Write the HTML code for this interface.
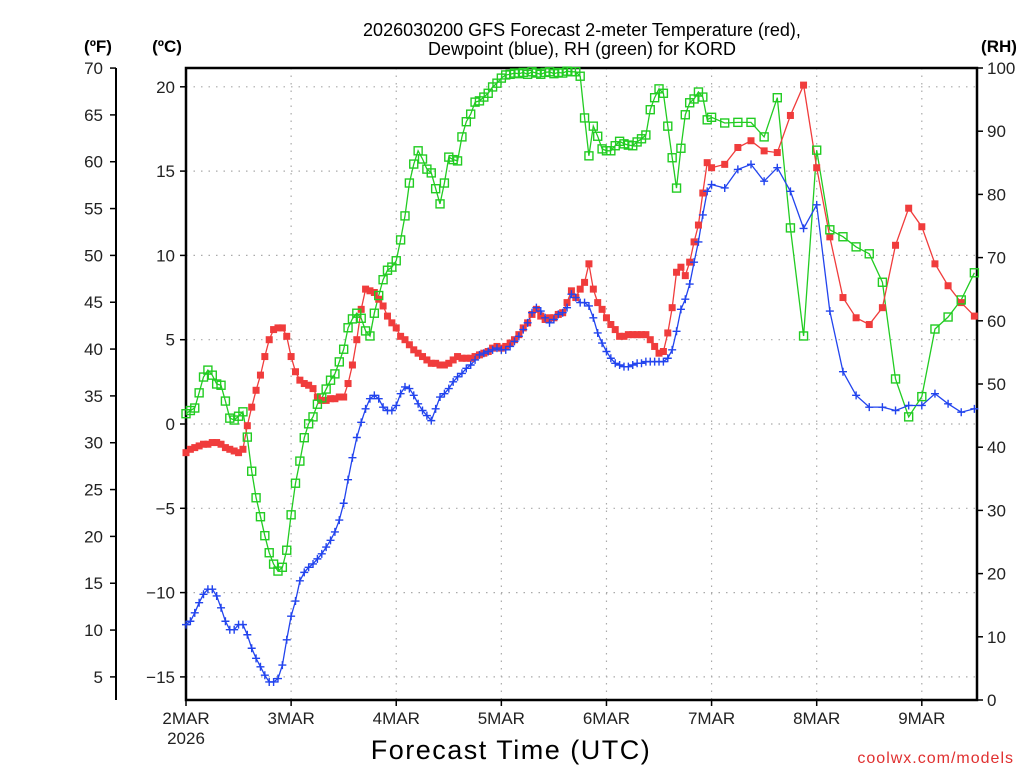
<!DOCTYPE html>
<html><head><meta charset="utf-8"><style>
html,body{margin:0;padding:0;background:#fff;}
svg{display:block;font-family:"Liberation Sans",sans-serif;}
</style></head><body>
<svg id="chart" width="1024" height="768" viewBox="0 0 1024 768" xmlns="http://www.w3.org/2000/svg">
<g id="grid"></g>
<g id="axes"></g>
<g id="series"></g>
<text x="582" y="36" font-size="18" text-anchor="middle" fill="#000">2026030200 GFS Forecast 2-meter Temperature (red),</text>
<text x="582" y="55" font-size="18" text-anchor="middle" fill="#000">Dewpoint (blue), RH (green) for KORD</text>
<text x="98" y="52" font-size="17" font-weight="bold" text-anchor="middle">(ºF)</text>
<text x="167" y="52" font-size="17" font-weight="bold" text-anchor="middle">(ºC)</text>
<text x="999" y="52" font-size="17" font-weight="bold" text-anchor="middle">(RH)</text>
<text x="511" y="759" font-size="27" text-anchor="middle" letter-spacing="1.5" fill="#000">Forecast Time (UTC)</text>
<text x="1014" y="763" font-size="16" text-anchor="end" fill="#e03030" letter-spacing="1">coolwx.com/models</text>
</svg>
<script>
// hours after 2026-03-02 00Z
const tempHourly = [-1.7,-1.5,-1.4,-1.3,-1.2,-1.2,-1.1,-1.1,-1.2,-1.4,-1.5,-1.6,-1.7,-1.5,-0.1,1.0,2.0,2.9,4.0,5.0,5.6,5.7,5.7,5.2,4.0,3.1,2.6,2.4,2.3,2.1,1.6,1.4,1.4,1.5,1.5,1.6,1.6,2.4,3.5,5.0,6.8,8.0,7.9,7.8,7.4,7.0,6.4,6.0,5.7,5.2,5.0,4.7,4.4,4.2,4.0,3.8,3.6,3.6,3.5,3.5,3.6,3.8,4.0,3.9,3.9,3.9,4.0,4.1,4.2,4.3,4.5,4.6,4.5,4.6,4.8,5.0,5.3,5.7,6.0,6.5,6.8,6.4,6.2,6.3,6.3,6.5,6.6,7.2,7.9,7.5,8.0,8.4,9.5,8.0,7.2,6.8,6.3,5.9,5.6,5.2,5.2,5.3,5.3,5.3,5.3,5.3,5.0,4.6,4.2,4.3,5.4,6.9,9.0,9.3,8.8,9.6,10.8,11.8,13.7,15.5,15.2];
const dewHourly = [-11.9,-11.7,-11.2,-10.6,-10.1,-9.8,-9.8,-10.2,-10.9,-11.7,-12.2,-12.2,-11.9,-11.9,-12.5,-13.3,-13.9,-14.4,-14.9,-15.3,-15.3,-15.1,-14.3,-12.8,-11.4,-10.5,-9.3,-8.8,-8.5,-8.3,-8.0,-7.7,-7.3,-6.9,-6.4,-5.7,-4.7,-3.3,-2.0,-0.8,0.1,0.9,1.5,1.7,1.5,1.0,0.8,0.8,1.1,1.8,2.2,2.1,1.7,1.2,0.8,0.5,0.2,0.9,1.6,1.8,2.1,2.5,2.8,3.0,3.3,3.5,3.8,4.1,4.2,4.3,4.4,4.5,4.4,4.4,4.6,4.9,5.2,5.6,6.0,6.6,6.9,6.7,6.3,6.0,6.2,6.5,6.6,6.9,7.7,7.5,7.2,7.2,7.0,6.3,5.4,4.8,4.3,3.9,3.6,3.5,3.4,3.4,3.5,3.6,3.6,3.7,3.7,3.7,3.7,3.7,3.9,4.4,5.5,6.8,7.4,8.3,9.6,10.8,12.4,13.8,14.2];
const rhHourly = [45.3,45.8,46.2,48.6,51.1,52.2,51.4,50.0,49.8,47.3,44.6,44.3,44.9,45.6,41.6,36.2,32.0,29.0,26.0,23.3,21.5,20.4,21.0,23.7,29.3,34.3,37.8,41.5,43.7,44.8,46.8,47.8,49.2,50.6,51.6,53.5,55.5,58.9,60.3,61.2,60.4,58.4,57.6,61.2,64.0,66.5,68.0,68.5,69.5,72.8,76.6,81.8,84.8,86.9,85.6,84.0,83.4,80.9,78.5,81.8,85.9,85.5,85.3,89.1,91.5,92.7,94.6,94.8,95.4,96.0,97.0,97.6,98.4,98.9,99.0,99.2,99.1,99.3,99.0,99.4,99.2,99.0,99.3,99.4,99.1,99.3,99.2,99.5,99.4,99.4,98.7,92.1,86.1,90.8,89.2,87.2,86.9,86.9,87.7,88.4,88.0,87.8,87.7,88.3,88.8,89.4,93.4,95.3,96.7,96.0,90.8,85.8,81.0,87.3,92.6,94.5,95.1,96.2,95.4,91.8,92.2];
const temp3h = [15.4,16.4,16.8,16.2,16.1,18.3,20.1,15.2,11.1,7.5,6.3,5.9,6.9,10.6,12.8,11.7,9.5,8.2,7.2,6.4];
const dew3h = [14.0,15.1,15.4,14.4,15.2,13.8,11.6,13.0,6.7,3.1,1.7,1.0,1.0,0.8,1.1,1.1,1.8,1.2,0.7,0.9];
const rh3h = [91.3,91.4,91.4,89.1,95.3,74.7,57.6,87.0,74.4,73.3,71.7,70.6,66.1,50.8,44.8,48.0,58.7,60.6,63.3,67.6];
const dayLabels = ["2MAR","3MAR","4MAR","5MAR","6MAR","7MAR","8MAR","9MAR"];
const celsiusTicks = [20,15,10,5,0,-5,-10,-15];
const fahrenheitTicks = [70,65,60,55,50,45,40,35,30,25,20,15,10,5];
const rhTicks = [0,10,20,30,40,50,60,70,80,90,100];

const NS="http://www.w3.org/2000/svg";
const L=186,R=977,T=68,B=700;
const pxPerHour=(R-L)/180.6;
const xS=h=>L+h*pxPerHour;
const yC=c=>424-c*16.86;
const yF=f=>yC((f-32)*5/9);
const yRH=r=>B-r*(B-T)/100;
function mk(tag,attrs,parent){const e=document.createElementNS(NS,tag);for(const k in attrs)e.setAttribute(k,attrs[k]);parent.appendChild(e);return e;}
const grid=document.getElementById('grid'),axes=document.getElementById('axes'),series=document.getElementById('series');

// build hour arrays
const hours=[];for(let i=0;i<tempHourly.length;i++)hours.push(i);
for(let i=0;i<temp3h.length;i++)hours.push(123+3*i);
const temp=tempHourly.concat(temp3h),dew=dewHourly.concat(dew3h),rh=rhHourly.concat(rh3h);

// grid
celsiusTicks.forEach(c=>{
  const g=mk('line',{x1:L,x2:R,y1:yC(c),y2:yC(c),stroke:'#aaa','stroke-width':1.2,'stroke-dasharray':'1.5 6'},grid);
  
  
});
dayLabels.forEach((d,i)=>{
  if(i===0)return;
  const g=mk('line',{x1:xS(i*24),x2:xS(i*24),y1:T,y2:B,stroke:'#aaa','stroke-width':1.2,'stroke-dasharray':'1.5 6'},grid);
  
  
});

// axes
const fr=mk('path',{d:`M${L},${T} H${R} V${B} H${L} Z`,fill:'none',stroke:'#000','stroke-width':2.5},axes);


const fa=mk('line',{x1:116,x2:116,y1:T,y2:B,stroke:'#000','stroke-width':2},axes);


fahrenheitTicks.forEach(f=>{
  mk('line',{x1:110,x2:116,y1:yF(f),y2:yF(f),stroke:'#000','stroke-width':1.5},axes);
  const t=mk('text',{x:103,y:yF(f)+6,'font-size':17,'text-anchor':'end',fill:'#222'},axes);
  t.textContent=f;
  
  
});
celsiusTicks.forEach(c=>{
  mk('line',{x1:180,x2:L,y1:yC(c),y2:yC(c),stroke:'#000','stroke-width':1.5},axes);
  const t=mk('text',{x:175,y:yC(c)+6,'font-size':17,'text-anchor':'end',fill:'#222'},axes);
  t.textContent=(c<0?'\u2212'+(-c):c);
  
  
});
rhTicks.forEach(r=>{
  mk('line',{x1:R,x2:R+6,y1:yRH(r),y2:yRH(r),stroke:'#000','stroke-width':1.5},axes);
  const t=mk('text',{x:987,y:yRH(r)+6,'font-size':17,'text-anchor':'start',fill:'#222'},axes);
  t.textContent=r;
  
  
});
dayLabels.forEach((d,i)=>{
  const x=xS(i*24);
  mk('line',{x1:x,x2:x,y1:B,y2:B+6,stroke:'#000','stroke-width':1.5},axes);
  const t=mk('text',{x:x,y:724,'font-size':17,'text-anchor':'middle',fill:'#222'},axes);
  t.textContent=d;
  
  
});
const yr=mk('text',{x:xS(0),y:744,'font-size':17,'text-anchor':'middle',fill:'#222'},axes);
yr.textContent='2026';



function line(vals,yf,color,name){
  const d=vals.map((v,i)=>(i?'L':'M')+xS(hours[i]).toFixed(1)+','+yf(v).toFixed(1)).join('');
  const p=mk('path',{d:d,fill:'none',stroke:color,'stroke-width':1.3},series);
  
  
}
line(rh,yRH,'#22cc22','rh-line');
line(temp,yC,'#f03c3c','temperature-line');
line(dew,yC,'#2244ee','dewpoint-line');
const gR=mk('g',{},series);


temp.forEach((v,i)=>{mk('rect',{x:xS(hours[i])-3.5,y:yC(v)-3.5,width:7,height:7,fill:'#f03c3c'},gR);});
const gG=mk('g',{},series);


rh.forEach((v,i)=>{mk('rect',{x:xS(hours[i])-4,y:yRH(v)-4,width:8,height:8,fill:'none',stroke:'#22cc22','stroke-width':1.4},gG);});
const gB=mk('g',{},series);


dew.forEach((v,i)=>{const x=xS(hours[i]),y=yC(v);mk('path',{d:`M${x-4},${y}H${x+4}M${x},${y-4}V${y+4}`,stroke:'#2244ee','stroke-width':1.4},gB);});
</script>
</body></html>
